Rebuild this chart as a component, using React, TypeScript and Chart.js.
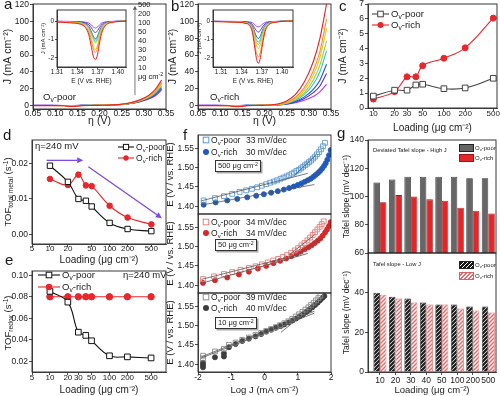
import React, { useEffect, useRef } from 'react';
import { Chart, registerables } from 'chart.js';

Chart.register(...registerables);

const FONT = '"Liberation Sans", Arial, Helvetica, sans-serif';
Chart.defaults.font.family = FONT;
Chart.defaults.color = '#1a1a1a';

// ---------------- data ----------------
const loadings = [10, 20, 30, 40, 50, 100, 200, 500];
const loadingColors = ['#b23de0', '#5b34c9', '#2257d6', '#35c2d0', '#92d64b', '#f3c31a', '#f7941d', '#e91d25'];

// panels a / b : LSV curves
const etaTicks = [0.05, 0.1, 0.15, 0.2, 0.25, 0.3, 0.35];
const jTicks = [0, 20, 40, 60, 80, 100, 120];
const etaMain = [0.05, 0.09, 0.12, 0.135, 0.145, 0.16, 0.19, 0.21, 0.23, 0.25, 0.27, 0.29, 0.31, 0.325, 0.34];
const aMain10 = [-0.2, -0.2, -0.3, -0.4, -0.3, -0.1, -0.1, 0.0, 0.3, 0.8, 2.0, 4.0, 7.2, 11.0, 18.0];
const aMain20 = [-0.2, -0.2, -0.3, -0.5, -0.4, -0.2, -0.1, 0.0, 0.3, 0.9, 2.1, 4.3, 7.7, 12.0, 19.5];
const aMain30 = [-0.3, -0.3, -0.3, -0.6, -0.5, -0.2, -0.1, 0.0, 0.3, 0.9, 2.2, 4.6, 8.3, 13.0, 21.0];
const aMain40 = [-0.3, -0.3, -0.4, -0.7, -0.6, -0.2, -0.1, 0.0, 0.3, 1.0, 2.4, 5.0, 9.0, 14.0, 23.0];
const aMain50 = [-0.3, -0.3, -0.4, -0.8, -0.7, -0.3, -0.1, 0.0, 0.4, 1.0, 2.5, 5.2, 9.5, 15.0, 25.0];
const aMain100 = [-0.4, -0.4, -0.5, -1.0, -0.9, -0.3, -0.1, 0.0, 0.4, 1.1, 2.7, 5.5, 10.0, 16.0, 26.5];
const aMain200 = [-0.4, -0.4, -0.6, -1.3, -1.1, -0.4, -0.2, 0.0, 0.4, 1.1, 2.8, 5.8, 10.8, 17.0, 28.0];
const aMain500 = [-0.5, -0.5, -0.7, -1.6, -1.4, -0.5, -0.2, 0.0, 0.4, 1.2, 3.0, 6.2, 11.5, 18.5, 30.0];
const bMain10 = [-0.2, -0.2, -0.3, -0.4, -0.3, -0.1, -0.1, 0.0, 0.3, 1.2, 3.0, 6.0, 10.5, 16.0, 25.0];
const bMain20 = [-0.2, -0.2, -0.3, -0.5, -0.4, -0.2, -0.1, 0.0, 0.4, 1.5, 4.0, 8.0, 15.0, 23.0, 38.0];
const bMain30 = [-0.3, -0.3, -0.3, -0.6, -0.5, -0.2, -0.1, 0.0, 0.5, 1.8, 4.8, 10.0, 19.0, 30.0, 49.0];
const bMain40 = [-0.3, -0.3, -0.4, -0.7, -0.6, -0.2, -0.1, 0.0, 0.6, 2.2, 6.0, 13.0, 25.0, 40.0, 65.0];
const bMain50 = [-0.3, -0.3, -0.4, -0.8, -0.7, -0.3, -0.1, 0.1, 0.7, 2.5, 7.0, 15.0, 30.0, 48.0, 77.0];
const bMain100 = [-0.4, -0.4, -0.5, -1.0, -0.9, -0.3, -0.1, 0.1, 0.8, 3.0, 8.0, 18.0, 36.0, 57.0, 92.0];
const bMain200 = [-0.4, -0.4, -0.6, -1.4, -1.2, -0.4, -0.2, 0.1, 1.0, 3.5, 9.5, 21.0, 41.0, 64.0, 103.0];
const bMain500 = [-0.5, -0.5, -0.7, -1.8, -1.5, -0.5, -0.2, 0.2, 1.5, 5.0, 13.0, 28.0, 52.0, 80.0, 121.0];
const aArrow = [0.28, 12, 0.28, 119];

// insets of a / b
const insetXTicks = [1.31, 1.34, 1.37, 1.4];
const insetYTicks = [-2, -1, 0];
const eInsetA = [1.31, 1.33, 1.345, 1.352, 1.357, 1.361, 1.364, 1.367, 1.37, 1.373, 1.377, 1.383, 1.39, 1.4, 1.412];
const aIn10 = [-0.01, -0.02, -0.03, -0.06, -0.11, -0.22, -0.33, -0.38, -0.32, -0.2, -0.09, -0.04, -0.02, -0.01, 0];
const aIn20 = [-0.02, -0.03, -0.06, -0.1, -0.2, -0.38, -0.55, -0.62, -0.52, -0.34, -0.16, -0.07, -0.03, -0.01, 0];
const aIn30 = [-0.03, -0.04, -0.08, -0.15, -0.3, -0.6, -0.85, -0.98, -0.82, -0.52, -0.24, -0.1, -0.04, -0.02, 0];
const aIn40 = [-0.03, -0.05, -0.09, -0.18, -0.36, -0.68, -0.95, -1.1, -0.92, -0.6, -0.28, -0.11, -0.05, -0.02, 0];
const aIn50 = [-0.03, -0.05, -0.1, -0.2, -0.4, -0.75, -1.05, -1.2, -1.0, -0.65, -0.3, -0.12, -0.05, -0.02, 0];
const aIn100 = [-0.04, -0.07, -0.13, -0.26, -0.52, -1.0, -1.4, -1.55, -1.3, -0.85, -0.4, -0.15, -0.06, -0.02, 0];
const aIn200 = [-0.05, -0.08, -0.15, -0.3, -0.6, -1.15, -1.55, -1.7, -1.45, -0.95, -0.45, -0.17, -0.07, -0.03, 0];
const aIn500 = [-0.05, -0.1, -0.18, -0.35, -0.75, -1.45, -1.95, -2.1, -1.8, -1.15, -0.55, -0.2, -0.08, -0.03, 0];
const eInsetB = [1.298, 1.33, 1.345, 1.352, 1.356, 1.359, 1.362, 1.365, 1.368, 1.371, 1.375, 1.381, 1.39, 1.4, 1.416];
const bIn10 = [-0.01, -0.02, -0.03, -0.05, -0.09, -0.18, -0.28, -0.32, -0.27, -0.17, -0.08, -0.03, -0.02, -0.01, 0];
const bIn20 = [-0.02, -0.03, -0.05, -0.09, -0.18, -0.35, -0.53, -0.6, -0.5, -0.32, -0.15, -0.06, -0.03, -0.01, 0];
const bIn30 = [-0.02, -0.04, -0.07, -0.13, -0.27, -0.55, -0.83, -0.95, -0.8, -0.5, -0.23, -0.09, -0.04, -0.01, 0];
const bIn40 = [-0.02, -0.04, -0.08, -0.15, -0.32, -0.66, -1.0, -1.15, -0.97, -0.62, -0.28, -0.1, -0.04, -0.01, 0];
const bIn50 = [-0.02, -0.04, -0.08, -0.17, -0.36, -0.74, -1.12, -1.28, -1.08, -0.7, -0.31, -0.11, -0.04, -0.01, 0];
const bIn100 = [-0.02, -0.05, -0.09, -0.19, -0.42, -0.86, -1.3, -1.5, -1.28, -0.83, -0.37, -0.13, -0.05, -0.02, 0];
const bIn200 = [-0.03, -0.05, -0.1, -0.22, -0.5, -1.1, -1.72, -1.95, -1.68, -1.08, -0.47, -0.16, -0.06, -0.02, 0];
const bIn500 = [-0.03, -0.06, -0.12, -0.25, -0.6, -1.3, -2.02, -2.3, -1.98, -1.28, -0.55, -0.18, -0.07, -0.02, 0];

// panel c
const cXTicks = [10, 20, 30, 50, 100, 200, 500];
const cYTicks = [0, 1, 2, 3, 4, 5, 6, 7];
const cPoor = [0.8, 1.2, 1.2, 1.55, 1.6, 1.3, 1.35, 2.0];
const cRich = [0.6, 1.1, 2.1, 2.1, 2.85, 3.35, 4.05, 6.05];

// panel d
const dXTicks = [5, 10, 20, 50, 100, 200, 500];
const dYTicks = [0, 0.01, 0.02];
const dPoor = [0.0193, 0.0148, 0.01, 0.0095, 0.0079, 0.0033, 0.0016, 0.001];
const dRich = [0.0156, 0.0139, 0.0168, 0.0138, 0.0136, 0.0081, 0.0048, 0.0029];
const dArrows = [[8.8, 0.0208, 36, 0.0208], [44, 0.019, 750, 0.0046]];

// panel e
const eXTicks = [5, 10, 20, 30, 50, 100, 200, 500];
const eYTicks = [0.02, 0.04, 0.06, 0.08, 0.1];
const ePoor = [0.085, 0.075, 0.047, 0.044, 0.039, 0.025, 0.024, 0.023];
const eRich = [0.08, 0.08, 0.08, 0.08, 0.08, 0.08, 0.08, 0.08];

// panel f (Tafel plots)
const fXTicks = [-2, -1, 0, 1, 2];
const fYTicks = [1.4, 1.45, 1.5, 1.55];
const f500PoorX = [-1.83, -1.49, -1.22, -0.97, -0.75, -0.55, -0.38, -0.22, -0.08, 0.05, 0.17, 0.28, 0.38, 0.48, 0.57, 0.66, 0.74, 0.82, 0.89, 0.96, 1.03, 1.1, 1.16, 1.22, 1.28, 1.34, 1.4, 1.46, 1.52, 1.58, 1.64, 1.7, 1.76, 1.82];
const f500PoorY = [1.415, 1.421, 1.426, 1.432, 1.437, 1.441, 1.445, 1.449, 1.453, 1.457, 1.461, 1.464, 1.467, 1.471, 1.474, 1.477, 1.48, 1.484, 1.487, 1.491, 1.494, 1.498, 1.502, 1.506, 1.51, 1.514, 1.518, 1.523, 1.528, 1.534, 1.54, 1.547, 1.555, 1.564];
const f500RichX = [-1.83, -1.47, -1.12, -0.82, -0.52, -0.25, -0.02, 0.2, 0.4, 0.58, 0.74, 0.88, 1.0, 1.11, 1.21, 1.3, 1.39, 1.47, 1.54, 1.61, 1.67, 1.73, 1.79, 1.84, 1.89, 1.94, 1.99];
const f500RichY = [1.404, 1.41, 1.415, 1.419, 1.423, 1.427, 1.431, 1.435, 1.439, 1.443, 1.447, 1.451, 1.455, 1.459, 1.463, 1.467, 1.471, 1.476, 1.481, 1.486, 1.491, 1.497, 1.504, 1.511, 1.52, 1.532, 1.545];
const f500Fits = [[-1.9, 1.414, 1.3, 1.485], [-1.9, 1.403, 1.5, 1.456], [0.9, 1.48, 1.55, 1.532], [1.05, 1.447, 1.75, 1.496]];
const f50PoorX = [-1.85, -1.52, -1.22, -0.97, -0.72, -0.47, -0.27, -0.08, 0.1, 0.26, 0.41, 0.55, 0.68, 0.8, 0.91, 1.01, 1.11, 1.2, 1.29, 1.37, 1.45, 1.52, 1.59, 1.66, 1.72, 1.78];
const f50PoorY = [1.416, 1.423, 1.429, 1.434, 1.44, 1.445, 1.449, 1.454, 1.459, 1.464, 1.468, 1.473, 1.478, 1.484, 1.49, 1.496, 1.503, 1.509, 1.516, 1.523, 1.53, 1.537, 1.544, 1.551, 1.558, 1.565];
const f50RichX = [-1.85, -1.49, -1.12, -0.77, -0.47, -0.2, 0.05, 0.27, 0.47, 0.65, 0.81, 0.96, 1.09, 1.21, 1.32, 1.42, 1.51, 1.6, 1.68, 1.75, 1.82, 1.88, 1.94, 1.99];
const f50RichY = [1.406, 1.413, 1.42, 1.428, 1.435, 1.443, 1.45, 1.457, 1.463, 1.469, 1.475, 1.481, 1.487, 1.493, 1.498, 1.503, 1.509, 1.515, 1.521, 1.528, 1.536, 1.544, 1.553, 1.563];
const f50Fits = [[-1.9, 1.415, 1.1, 1.481], [-1.9, 1.405, 1.3, 1.482], [0.75, 1.479, 1.5, 1.53], [0.95, 1.477, 1.75, 1.522]];
const f10PoorX = [-1.85, -1.85, -1.49, -1.22, -1.07, -0.87, -0.67, -0.47, -0.27, -0.1, 0.05, 0.2, 0.34, 0.47, 0.6, 0.72, 0.83, 0.94, 1.04, 1.14, 1.23, 1.32, 1.4, 1.48, 1.55, 1.62, 1.68];
const f10PoorY = [1.415, 1.422, 1.433, 1.44, 1.45, 1.456, 1.463, 1.469, 1.476, 1.481, 1.486, 1.491, 1.496, 1.501, 1.506, 1.511, 1.517, 1.523, 1.529, 1.535, 1.541, 1.547, 1.553, 1.559, 1.565, 1.571, 1.577];
const f10RichX = [-1.85, -1.85, -1.85, -1.49, -1.22, -1.22, -1.07, -0.87, -0.67, -0.47, -0.27, -0.1, 0.05, 0.2, 0.34, 0.47, 0.6, 0.72, 0.84, 0.95, 1.06, 1.16, 1.26, 1.35, 1.44, 1.52, 1.6, 1.67, 1.74, 1.8];
const f10RichY = [1.392, 1.398, 1.404, 1.418, 1.42, 1.428, 1.444, 1.452, 1.46, 1.466, 1.472, 1.478, 1.484, 1.489, 1.494, 1.499, 1.503, 1.508, 1.513, 1.518, 1.524, 1.529, 1.535, 1.541, 1.547, 1.553, 1.559, 1.565, 1.571, 1.576];
const f10Fits = [[-1.9, 1.419, 1.5, 1.537], [-1.9, 1.416, 1.5, 1.532], [0.5, 1.491, 1.6, 1.566], [0.5, 1.483, 1.6, 1.558]];

// panel g (bars)
const gHighTicks = [60, 80, 100, 120, 140];
const gLowTicks = [0, 20, 40];
const gPoorHigh = [110, 112, 114, 114, 114, 114, 113, 113];
const gRichHigh = [96, 101, 100, 98, 97, 92, 90, 88];
const gPoorLow = [40, 38, 37, 35, 34, 34, 33, 33];
const gRichLow = [39, 37, 35, 34, 34, 32, 31, 30];

// ---------------- helpers ----------------
const f2 = (v: number) => v.toFixed(2);
const RED = '#e8262b';

function mkAxis(o: any, horiz: boolean): any {
  if (o.hide) return { type: o.type || 'linear', min: o.min, max: o.max, display: false, offset: false };
  return {
    type: o.type || 'linear',
    min: o.min,
    max: o.max,
    offset: false,
    beginAtZero: false,
    grid: { display: true, drawOnChartArea: false, drawTicks: true, tickLength: o.tl ?? 3, color: '#222', lineWidth: 0.8, offset: false },
    border: { display: true, color: '#222', width: 0.8 },
    ticks: {
      autoSkip: false, maxRotation: 0, minRotation: 0,
      padding: o.pad ?? (horiz ? -2 : 1),
      font: { size: o.fs ?? 8.5 },
      color: '#1a1a1a',
      callback: (v: any) => (o.fmt ? o.fmt(Number(v)) : String(v)),
    },
    title: o.title
      ? { display: true, text: o.title, font: { size: o.ts ?? 10 }, color: '#1a1a1a', padding: { top: o.tp ?? 0, bottom: 0 } }
      : { display: false },
    afterBuildTicks: (s: any) => { s.ticks = o.ticks.map((value: number) => ({ value })); },
    afterFit: (s: any) => { if (horiz) s.height = o.size; else s.width = o.size; },
  };
}

function frame(fill?: string) {
  return {
    id: 'frame',
    beforeDraw(c: any) {
      if (!fill) return;
      const a = c.chartArea;
      c.ctx.save(); c.ctx.fillStyle = fill; c.ctx.fillRect(a.left, a.top, a.width, a.height); c.ctx.restore();
    },
    afterDraw(c: any) {
      const a = c.chartArea, ctx = c.ctx;
      ctx.save(); ctx.strokeStyle = '#222'; ctx.lineWidth = 0.9;
      ctx.strokeRect(a.left, a.top, a.width, a.height); ctx.restore();
    },
  };
}

function arrows(list: number[][], color: string, lw: number, head: number) {
  return {
    id: 'arrows',
    afterDatasetsDraw(c: any) {
      const ctx = c.ctx, xs = c.scales.x, ys = c.scales.y;
      ctx.save(); ctx.strokeStyle = color; ctx.fillStyle = color; ctx.lineWidth = lw;
      for (const [x1, y1, x2, y2] of list) {
        const X1 = xs.getPixelForValue(x1), Y1 = ys.getPixelForValue(y1);
        const X2 = xs.getPixelForValue(x2), Y2 = ys.getPixelForValue(y2);
        const ang = Math.atan2(Y2 - Y1, X2 - X1);
        const bx = X2 - head * Math.cos(ang), by = Y2 - head * Math.sin(ang);
        ctx.beginPath(); ctx.moveTo(X1, Y1); ctx.lineTo(bx, by); ctx.stroke();
        const w = head * 0.5;
        ctx.beginPath(); ctx.moveTo(X2, Y2);
        ctx.lineTo(bx + w * Math.sin(ang), by - w * Math.cos(ang));
        ctx.lineTo(bx - w * Math.sin(ang), by + w * Math.cos(ang));
        ctx.closePath(); ctx.fill();
      }
      ctx.restore();
    },
  };
}

function hatch(line: string, bg: string, size: number, lw: number) {
  const c = document.createElement('canvas');
  c.width = size; c.height = size;
  const x = c.getContext('2d')!;
  x.fillStyle = bg; x.fillRect(0, 0, size, size);
  x.strokeStyle = line; x.lineWidth = lw;
  x.beginPath();
  x.moveTo(-1, size + 1); x.lineTo(size + 1, -1);
  x.moveTo(-1, 1); x.lineTo(1, -1);
  x.moveTo(size - 1, size + 1); x.lineTo(size + 1, size - 1);
  x.stroke();
  return x.createPattern(c, 'repeat');
}

const xy = (xs: number[], ys: number[]) => xs.map((x, i) => ({ x, y: ys[i] }));

const curve = (xs: number[], ys: number[], color: string, w = 1.1) => ({
  type: 'line', data: xy(xs, ys), borderColor: color, borderWidth: w, pointRadius: 0,
  tension: 0.4, cubicInterpolationMode: 'monotone', fill: false,
});

const markerLine = (xs: number[], ys: number[], color: string, shape: string, r: number, open: boolean) => ({
  type: 'line', data: xy(xs, ys), borderColor: color, borderWidth: 1.1, pointStyle: shape, pointRadius: r,
  pointBorderColor: color, pointBackgroundColor: open ? '#fff' : color, pointBorderWidth: 1,
  tension: 0.4, fill: false,
});

const pts = (xs: number[], ys: number[], color: string, shape: string, r: number, open: boolean) => ({
  type: 'scatter', data: xy(xs, ys), showLine: false, pointStyle: shape, pointRadius: r,
  pointBorderColor: color, pointBackgroundColor: open ? 'rgba(255,255,255,0)' : color, pointBorderWidth: 0.9,
});

const seg = (l: number[]) => ({
  type: 'line', data: [{ x: l[0], y: l[1] }, { x: l[2], y: l[3] }], borderColor: '#555', borderWidth: 0.8, pointRadius: 0, fill: false,
});

const bars = (vals: number[], fill: any, border: string) => ({
  type: 'bar', data: vals.map((y, i) => ({ x: i, y })), backgroundColor: fill, borderColor: border, borderWidth: 0.8,
  barPercentage: 1, categoryPercentage: 0.84, clip: 0,
});

function cfg(type: string, datasets: any[], x: any, y: any, pad: number[], plugins: any[] = []) {
  return {
    type,
    data: { datasets },
    options: {
      responsive: false, maintainAspectRatio: false, animation: false, devicePixelRatio: 1, events: [],
      layout: { padding: { top: pad[0], right: pad[1], bottom: pad[2], left: 0 } },
      plugins: { legend: { display: false }, tooltip: { enabled: false }, title: { display: false } },
      scales: { x: mkAxis(x, true), y: mkAxis(y, false) },
    },
    plugins,
  };
}

// ---------------- chart builders ----------------
const aMainSeries = [aMain10, aMain20, aMain30, aMain40, aMain50, aMain100, aMain200, aMain500];
const bMainSeries = [bMain10, bMain20, bMain30, bMain40, bMain50, bMain100, bMain200, bMain500];
const aInSeries = [aIn10, aIn20, aIn30, aIn40, aIn50, aIn100, aIn200, aIn500];
const bInSeries = [bIn10, bIn20, bIn30, bIn40, bIn50, bIn100, bIn200, bIn500];

const lsvX = { min: 0.05, max: 0.35, ticks: etaTicks, fmt: f2, size: 18, title: 'η (V)', ts: 10.5, pad: -3 };
const lsvY = { min: -4.5, max: 121, ticks: jTicks, size: 33, title: 'J (mA cm⁻²)', tp: 2, ts: 10.5 };

const makeMain = (series: number[][], withArrow: boolean) => () =>
  cfg('line', series.map((ys, i) => curve(etaMain, ys, loadingColors[i])).reverse(), lsvX, lsvY, [8, 14, 0],
    withArrow ? [frame(), arrows([aArrow], '#555', 0.8, 4)] : [frame()]);

const makeInset = (xs: number[], series: number[][], xmin: number, xmax: number) => () =>
  cfg('line', series.map((ys, i) => curve(xs, ys, loadingColors[i], 1)).reverse(),
    { min: xmin, max: xmax, ticks: insetXTicks, fmt: f2, size: 18, title: 'E (V vs. RHE)', ts: 6.5, fs: 6.5, tl: 2, pad: -1 },
    { min: -2.5, max: 0.6, ticks: insetYTicks, size: 17, title: 'J (mA cm⁻²)', ts: 6, fs: 6.5, tl: 2, pad: 1 },
    [8, 14, 0], [frame('#fff')]);

const makeC = () => cfg('line', [
  markerLine(loadings, cPoor, '#444', 'rect', 4, true),
  markerLine(loadings, cRich, RED, 'circle', 3, false),
],
  { type: 'logarithmic', min: 8.4, max: 565, ticks: cXTicks, size: 26, title: 'Loading (μg cm⁻²)', ts: 10, fs: 8 },
  { min: 0, max: 7, ticks: cYTicks, size: 33, title: 'J (mA cm⁻²)', tp: 2, ts: 10.5 },
  [8, 13, 0], [frame()]);

const makeD = () => cfg('line', [
  markerLine(loadings, dPoor, '#111', 'rect', 3.8, true),
  markerLine(loadings, dRich, RED, 'circle', 2.8, false),
],
  { type: 'logarithmic', min: 5, max: 880, ticks: dXTicks, size: 22, title: 'Loading (μg cm⁻²)', ts: 10, pad: -3, fs: 8 },
  { min: -0.0026, max: 0.0265, ticks: dYTicks, fmt: f2, size: 32 },
  [8, 14, 0], [frame(), arrows(dArrows, '#7b4ae2', 1.3, 6)]);

const makeE = () => cfg('line', [
  markerLine(loadings, ePoor, '#111', 'rect', 4, true),
  markerLine(loadings, eRich, RED, 'circle', 3.2, false),
],
  { type: 'logarithmic', min: 5, max: 890, ticks: eXTicks, size: 24, title: 'Loading (μg cm⁻²)', ts: 10, fs: 8 },
  { min: 0.0099, max: 0.104, ticks: eYTicks, fmt: f2, size: 32 },
  [8, 14, 0], [frame()]);

const fY = { min: 1.38, max: 1.584, ticks: fYTicks, fmt: f2, size: 33, title: 'E (V / vs. RHE)', ts: 9.5, tp: 0 };
const makeF = (px: number[], py: number[], rx: number[], ry: number[], fits: number[][], pc: string, rc: string, last: boolean) => () =>
  cfg('scatter', [
    ...fits.map(seg),
    pts(px, py, pc, 'rect', 3.4, true),
    pts(rx, ry, rc, 'circle', 2.5, false),
  ],
    last
      ? { min: -2, max: 2, ticks: fXTicks, size: 24, title: 'Log J (mA cm⁻²)', ts: 9.5 }
      : { min: -2, max: 2, ticks: fXTicks, hide: true },
    fY, last ? [8, 14, 0] : [8, 14, 8], [frame()]);

const makeGTop = () => cfg('bar', [
  bars(gPoorHigh, '#666666', '#222'),
  bars(gRichHigh, '#e3262a', '#a51212'),
],
  { min: -0.77, max: 7.5, ticks: [0], hide: true },
  { min: 60, max: 140, ticks: gHighTicks, size: 33, title: 'Tafel slope (mV dec⁻¹)', ts: 8.5, tp: 7 },
  [8, 14, 8], [frame()]);

const makeGBot = () => cfg('bar', [
  bars(gPoorLow, hatch('#1a1a1a', '#ffffff', 4, 2.2), '#222'),
  bars(gRichLow, hatch('#e86a6a', '#ffffff', 4, 1.5), '#e06060'),
],
  { min: -0.77, max: 7.5, ticks: loadings.map((_, i) => i), fmt: (v: number) => String(loadings[v]), size: 24, title: 'Loading (μg cm⁻²)', ts: 9.5, pad: 1 },
  { min: 0, max: 60, ticks: gLowTicks, size: 33, title: 'Tafel slope (mV dec⁻¹)', ts: 8.5, tp: 7 },
  [8, 14, 0], [frame()]);

// ---------------- components ----------------
function Panel({ box, make }: { box: number[]; make: () => any }) {
  const ref = useRef<HTMLCanvasElement | null>(null);
  useEffect(() => {
    if (!ref.current) return;
    const ch = new Chart(ref.current, make());
    return () => ch.destroy();
  }, []);
  const [l, t, w, h] = box;
  return <canvas ref={ref} width={w} height={h} style={{ position: 'absolute', left: l, top: t, width: w, height: h, display: 'block' }} />;
}

const sub: React.CSSProperties = { fontSize: '0.7em', position: 'relative', top: '0.3em' };
const sup: React.CSSProperties = { fontSize: '0.7em', position: 'relative', top: '-0.45em' };
const Ov = ({ k }: { k: string }) => (<>O<span style={sub}>v</span>-{k}</>);

function T({ x, b, s = 9, children, style }: any) {
  return (
    <div style={{ position: 'absolute', left: x, top: b - 0.85 * s, fontSize: s, lineHeight: `${s}px`, whiteSpace: 'nowrap', ...style }}>
      {children}
    </div>
  );
}

function R({ cx, cy, s, children }: any) {
  return (
    <div style={{ position: 'absolute', left: cx, top: cy, fontSize: s, lineHeight: `${s}px`, whiteSpace: 'nowrap', transform: 'translate(-50%,-50%) rotate(-90deg)' }}>
      {children}
    </div>
  );
}

function Sym({ x, y, w, color, shape, open, line = true, r = 2.8 }: any) {
  return (
    <svg style={{ position: 'absolute', left: x, top: y - 5 }} width={w} height={10}>
      {line && <line x1={0} y1={5} x2={w} y2={5} stroke={color} strokeWidth={1.1} />}
      {shape === 'sq'
        ? <rect x={w / 2 - r} y={5 - r} width={2 * r} height={2 * r} fill={open ? '#fff' : color} stroke={color} strokeWidth={1} />
        : <circle cx={w / 2} cy={5} r={r} fill={color} />}
    </svg>
  );
}

const fLegends = [
  { y1: 140, y2: 152, s1: '33 mV/dec', s2: '30 mV/dec', load: 500, box: 160, pc: '#5b9bd5', rc: '#1f5bbf' },
  { y1: 222, y2: 233, s1: '34 mV/dec', s2: '34 mV/dec', load: 50, box: 239, pc: '#e77c7c', rc: '#d62828' },
  { y1: 297, y2: 308, s1: '39 mV/dec', s2: '40 mV/dec', load: 10, box: 317, pc: '#8c8c8c', rc: '#3d3d3d' },
];

export default function App() {
  const box = (x: number, y: number, bg: string, border: string) => (
    <div style={{ position: 'absolute', left: x, top: y, width: 13, height: 6, background: bg, border: `0.8px solid ${border}` }} />
  );
  return (
    <div style={{ position: 'fixed', left: 0, top: 0, width: 500, height: 396, overflow: 'hidden', background: '#fff', fontFamily: FONT, color: '#1a1a1a' }}>
      <Panel box={[0, -4, 180, 131]} make={makeMain(aMainSeries, true)} />
      <Panel box={[40, 2, 100, 83]} make={makeInset(eInsetA, aInSeries, 1.31, 1.412)} />
      <Panel box={[165, -4, 180, 131]} make={makeMain(bMainSeries, false)} />
      <Panel box={[196, 2, 111, 83]} make={makeInset(eInsetB, bInSeries, 1.298, 1.416)} />
      <Panel box={[335, -4, 175, 138]} make={makeC} />
      <Panel box={[0, 132, 180, 134]} make={makeD} />
      <Panel box={[0, 263, 180, 133]} make={makeE} />
      <Panel box={[165, 127, 180, 95]} make={makeF(f500PoorX, f500PoorY, f500RichX, f500RichY, f500Fits, '#5b9bd5', '#1f5bbf', false)} />
      <Panel box={[165, 206, 180, 95]} make={makeF(f50PoorX, f50PoorY, f50RichX, f50RichY, f50Fits, '#e77c7c', '#d62828', false)} />
      <Panel box={[165, 285, 180, 111]} make={makeF(f10PoorX, f10PoorY, f10RichX, f10RichY, f10Fits, '#8c8c8c', '#3d3d3d', true)} />
      <Panel box={[335, 132, 175, 129]} make={makeGTop} />
      <Panel box={[335, 245, 175, 151]} make={makeGBot} />

      {/* panel letters */}
      <T x={4} b={9} s={15}>a</T>
      <T x={171} b={11} s={15}>b</T>
      <T x={339} b={11} s={15}>c</T>
      <T x={3} b={140} s={15}>d</T>
      <T x={5} b={265} s={15}>e</T>
      <T x={183} b={140} s={15}>f</T>
      <T x={337} b={138} s={15}>g</T>

      {/* a */}
      <T x={43} b={100} s={9.5}><Ov k="poor" /></T>
      {[...loadings].reverse().map((v, i) => (
        <T key={v} x={138} b={7 + i * 9} s={7.5}>{v}</T>
      ))}
      <T x={138} b={79} s={7.5}>μg cm<span style={sup}>-2</span></T>

      {/* b */}
      <T x={210} b={100} s={9.5}><Ov k="rich" /></T>

      {/* c */}
      <Sym x={372} y={14} w={17} color="#444" shape="sq" open r={2.8} />
      <T x={391} b={17.5} s={9.5}><Ov k="poor" /></T>
      <Sym x={372} y={25} w={17} color={RED} shape="ci" r={3} />
      <T x={391} b={28.5} s={9.5}><Ov k="rich" /></T>

      {/* d */}
      <T x={35} b={149.5} s={9.5}>η=240 mV</T>
      <Sym x={118} y={147} w={16} color="#111" shape="sq" open r={2.6} />
      <T x={136} b={150} s={8.5}><Ov k="poor" /></T>
      <Sym x={118} y={158} w={16} color={RED} shape="ci" r={2.7} />
      <T x={136} b={161} s={8.5}><Ov k="rich" /></T>
      <R cx={8} cy={192} s={9.5}>TOF<span style={sub}>total metal</span> (s<span style={sup}>-1</span>)</R>

      {/* e */}
      <Sym x={38} y={275} w={22} color="#111" shape="sq" open r={2.8} />
      <T x={62} b={278.5} s={9.5}><Ov k="poor" /></T>
      <Sym x={38} y={287} w={22} color={RED} shape="ci" r={3.2} />
      <T x={62} b={290.5} s={9.5}><Ov k="rich" /></T>
      <T x={123} b={278.5} s={9.5}>η=240 mV</T>
      <R cx={8} cy={323} s={9.5}>TOF<span style={sub}>redox</span> (s<span style={sup}>-1</span>)</R>

      {/* f */}
      {fLegends.map((L) => (
        <React.Fragment key={L.load}>
          <Sym x={202} y={L.y1} w={8} color={L.pc} shape="sq" open line={false} r={2.8} />
          <T x={211} b={L.y1 + 3} s={8.5}><Ov k="poor" /></T>
          <T x={246} b={L.y1 + 3} s={8.5}>{L.s1}</T>
          <Sym x={202} y={L.y2} w={8} color={L.rc} shape="ci" line={false} r={3} />
          <T x={211} b={L.y2 + 3} s={8.5}><Ov k="rich" /></T>
          <T x={246} b={L.y2 + 3} s={8.5}>{L.s2}</T>
          <div style={{ position: 'absolute', left: 215, top: L.box, fontSize: 7.5, lineHeight: '9px', border: '0.8px solid #333', padding: '0 2px', background: '#fff', boxShadow: '1.5px 1.5px 0 #aaa', whiteSpace: 'nowrap' }}>
            {L.load} μg cm<span style={sup}>-2</span>
          </div>
        </React.Fragment>
      ))}

      {/* g */}
      <T x={373} b={153} s={5.8}>Deviated Tafel slope - High J</T>
      {box(459, 144, '#666', '#222')}
      <T x={475} b={150} s={6}><Ov k="poor" /></T>
      {box(459, 154, '#e3262a', '#a51212')}
      <T x={475} b={160} s={6}><Ov k="rich" /></T>
      <T x={373} b={267} s={5.8}>Tafel slope - Low J</T>
      {box(459, 261, 'repeating-linear-gradient(-45deg, #1a1a1a 0 1.6px, #fff 1.6px 2.8px)', '#222')}
      <T x={475} b={267} s={6}><Ov k="poor" /></T>
      {box(459, 272, 'repeating-linear-gradient(-45deg, #e86a6a 0 1.2px, #fff 1.2px 2.8px)', '#e06060')}
      <T x={475} b={278} s={6}><Ov k="rich" /></T>
    </div>
  );
}
